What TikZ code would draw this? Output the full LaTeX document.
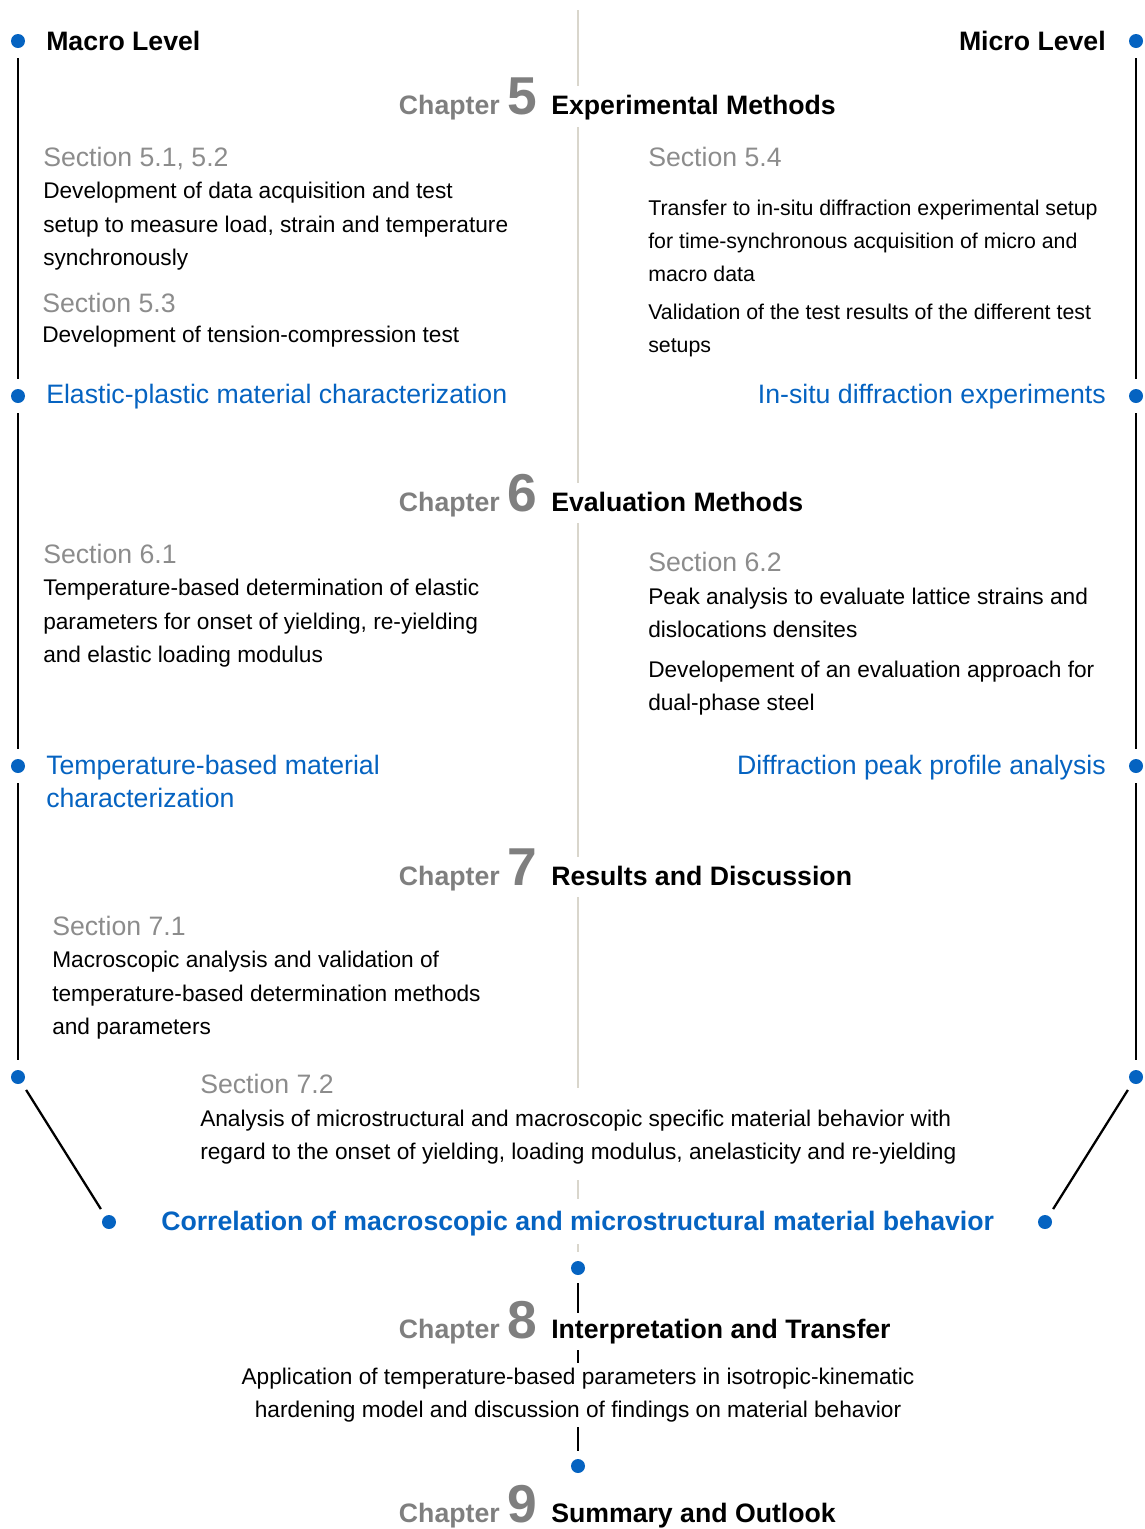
\documentclass[tikz,border=0pt]{standalone}
\usepackage{fontspec}
\setmainfont{Liberation Sans}
\usetikzlibrary{backgrounds}
\definecolor{dotblue}{HTML}{0563C1}
\definecolor{secgray}{HTML}{8C8C8C}
\definecolor{chapgray}{HTML}{7F7F7F}
\definecolor{axisgray}{HTML}{D9D6CC}
\tikzset{
  txt/.style={inner sep=0pt, anchor=base west},
  body/.style={txt, font=\fontsize{17}{20}\selectfont},
  bodyr/.style={txt, font=\fontsize{16}{20}\selectfont},
  sec/.style={txt, text=secgray, font=\fontsize{20}{24}\selectfont},
  topic/.style={txt, text=dotblue, font=\fontsize{20}{24}\selectfont},
  topicbold/.style={txt, text=dotblue, font=\bfseries\fontsize{20}{24}\selectfont},
  level/.style={txt, font=\bfseries\fontsize{20}{24}\selectfont},
  chapw/.style={inner sep=0pt, anchor=base east, text=chapgray, font=\bfseries\fontsize{20}{24}\selectfont},
  chapn/.style={inner sep=0pt, anchor=base west, text=chapgray, font=\bfseries\fontsize{40}{48}\selectfont},
  chapt/.style={txt, font=\bfseries\fontsize{20}{24}\selectfont},
  bdot/.style={circle, fill=dotblue, inner sep=0pt, minimum size=10.5pt},
  link/.style={line width=1.7pt, shorten >=7.5pt, shorten <=7.5pt},
  slant/.style={line width=1.7pt, shorten >=6pt, shorten <=6pt},
  axis/.style={line width=1.6pt, draw=axisgray},
  cover/.style={fill=white}
}
\begin{document}
\begin{tikzpicture}[x=0.75pt,y=-0.75pt]
\useasboundingbox (0,0) rectangle (1145,1529);

% dots
\node[bdot] (dL1) at (18,41) {};
\node[bdot] (dL2) at (18,396) {};
\node[bdot] (dL3) at (18,766) {};
\node[bdot] (dL4) at (18,1077) {};
\node[bdot] (dL5) at (109,1222) {};
\node[bdot] (dR1) at (1136,41) {};
\node[bdot] (dR2) at (1136,396) {};
\node[bdot] (dR3) at (1136,766) {};
\node[bdot] (dR4) at (1136,1077) {};
\node[bdot] (dR5) at (1045,1222) {};
\node[bdot] (dC1) at (578,1268) {};
\node[bdot] (dC2) at (578,1466) {};

% levels
\node[level] (macro) at (46,50) {Macro Level};
\node[level, anchor=base east] (micro) at (1106,50) {Micro Level};

% chapter 5
\node[chapw] (c5w) at (500,114) {Chapter};
\node[chapn] (c5n) at (507,114) {5};
\node[chapt] (c5t) at (551,114) {Experimental Methods};

\node[sec] (s51) at (43,166) {Section 5.1, 5.2};
\node[body] (t51a) at (43,198) {Development of data acquisition and test};
\node[body] (t51b) at (43,232) {setup to measure load, strain and temperature};
\node[body] (t51c) at (43,265) {synchronously};
\node[sec] (s53) at (42,312) {Section 5.3};
\node[body] (t53a) at (42,342) {Development of tension-compression test};
\node[topic] (e5l) at (46,403) {Elastic-plastic material characterization};

\node[sec] (s54) at (648,166) {Section 5.4};
\node[bodyr] (t54a) at (648,215) {Transfer to in-situ diffraction experimental setup};
\node[bodyr] (t54b) at (648,248) {for time-synchronous acquisition of micro and};
\node[bodyr] (t54c) at (648,281) {macro data};
\node[bodyr] (t54d) at (648,319) {Validation of the test results of the different test};
\node[bodyr] (t54e) at (648,352) {setups};
\node[topic, anchor=base east] (e5r) at (1106,403) {In-situ diffraction experiments};

% chapter 6
\node[chapw] (c6w) at (500,511) {Chapter};
\node[chapn] (c6n) at (507,511) {6};
\node[chapt] (c6t) at (551,511) {Evaluation Methods};

\node[sec] (s61) at (43,563) {Section 6.1};
\node[body] (t61a) at (43,595) {Temperature-based determination of elastic};
\node[body] (t61b) at (43,629) {parameters for onset of yielding, re-yielding};
\node[body] (t61c) at (43,662) {and elastic loading modulus};
\node[topic] (e6la) at (46,774) {Temperature-based material};
\node[topic] (e6lb) at (46,807) {characterization};

\node[sec] (s62) at (648,571) {Section 6.2};
\node[body] (t62a) at (648,604) {Peak analysis to evaluate lattice strains and};
\node[body] (t62b) at (648,637) {dislocations densites};
\node[body] (t62c) at (648,677) {Developement of an evaluation approach for};
\node[body] (t62d) at (648,710) {dual-phase steel};
\node[topic, anchor=base east] (e6r) at (1106,774) {Diffraction peak profile analysis};

% chapter 7
\node[chapw] (c7w) at (500,885) {Chapter};
\node[chapn] (c7n) at (507,885) {7};
\node[chapt] (c7t) at (551,885) {Results and Discussion};

\node[sec] (s71) at (52,935) {Section 7.1};
\node[body] (t71a) at (52,967) {Macroscopic analysis and validation of};
\node[body] (t71b) at (52,1001) {temperature-based determination methods};
\node[body] (t71c) at (52,1034) {and parameters};

\node[sec] (s72) at (200,1093) {Section 7.2};
\node[body] (t72a) at (200,1126) {Analysis of microstructural and macroscopic specific material behavior with};
\node[body] (t72b) at (200,1159) {regard to the onset of yielding, loading modulus, anelasticity and re-yielding};

\node[topicbold] (corr) at (161,1230) {Correlation of macroscopic and microstructural material behavior};

% chapter 8
\node[chapw] (c8w) at (500,1338) {Chapter};
\node[chapn] (c8n) at (507,1338) {8};
\node[chapt, cover, inner ysep=4.5pt] (c8t) at (551,1338) {Interpretation and Transfer};
\node[body, anchor=base, cover, inner ysep=3.75pt, text depth=8pt] (t8a) at (578,1384) {Application of temperature-based parameters in isotropic-kinematic};
\node[body, anchor=base, cover, inner ysep=3.75pt] (t8b) at (578,1417) {hardening model and discussion of findings on material behavior};

% chapter 9
\node[chapw] (c9w) at (500,1522) {Chapter};
\node[chapn] (c9n) at (507,1522) {9};
\node[chapt] (c9t) at (551,1522) {Summary and Outlook};

\begin{pgfonlayer}{background}
  % central gray axis
  \draw[axis] (578,10) -- (578,86);
  \draw[axis] (578,127) -- (578,483);
  \draw[axis] (578,523) -- (578,857);
  \draw[axis] (578,897) -- (578,1088);
  \draw[axis] (578,1180) -- (578,1199);
  \draw[axis] (578,1244) -- (578,1252);
  % left chain
  \draw[link] (dL1) -- (dL2);
  \draw[link] (dL2) -- (dL3);
  \draw[link] (dL3) -- (dL4);
  \draw[slant] (dL4) -- (dL5);
  % right chain
  \draw[link] (dR1) -- (dR2);
  \draw[link] (dR2) -- (dR3);
  \draw[link] (dR3) -- (dR4);
  \draw[slant] (dR4) -- (dR5);
  % center chain
  \draw[line width=1.7pt, shorten >=6pt, shorten <=6pt] (dC1) -- (dC2);
\end{pgfonlayer}
\end{tikzpicture}
\end{document}
